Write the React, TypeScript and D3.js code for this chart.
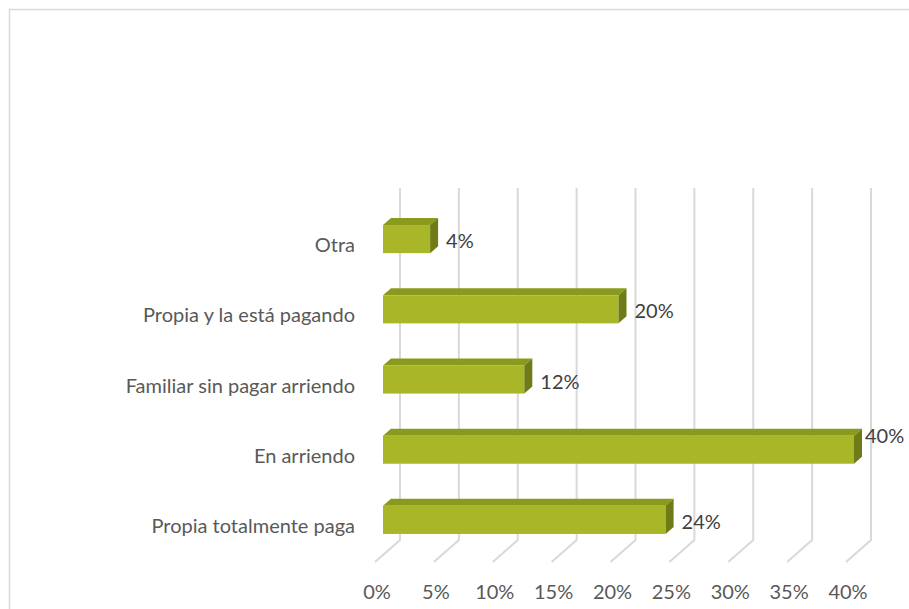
import React from "react";
import * as d3 from "d3";

const categories = ["Otra", "Propia y la está pagando", "Familiar sin pagar arriendo", "En arriendo", "Propia totalmente paga"];
const values = [4, 20, 12, 40, 24];
const ticks = [0, 5, 10, 15, 20, 25, 30, 35, 40];

const W = 909;
const H = 609;
const FONT = "Lato, 'Open Sans', sans-serif";
const FS = 20;

export default function App() {
  // front floor plane x scale
  const x = d3.scaleLinear().domain([0, 40]).range([375, 846]);
  const y = d3.scaleBand().domain(categories).range([204, 555]).paddingInner(0.6).paddingOuter(0.3);
  const depthX = 25, depthY = 23; // back wall offset
  const barOffX = 8; // bar front plane offset from front floor
  const bdx = 8, bdy = 7; // bar depth
  const gridTop = 188;
  const gridBottom = 540;
  const fmt = (v: number) => `${v}%`;

  return (
    <svg width={W} height={H} style={{ position: "absolute", left: 0, top: 0 }} fontFamily={FONT}>
      <rect x={0} y={0} width={W} height={H} fill="#fff" />
      <path d={`M9.5,${H + 5}V9.5H${W + 5}`} fill="none" stroke="#d9d9d9" strokeWidth={1.5} />
      {ticks.map((t) => {
        const bx = x(t) + depthX;
        return (
          <path
            key={t}
            d={`M${bx},${gridTop}V${gridBottom}L${x(t)},${gridBottom + depthY - 1}`}
            fill="none"
            stroke="#d9d9d9"
            strokeWidth={2}
          />
        );
      })}
      {ticks.map((t) => (
        <text key={t} x={x(t) + 2} y={599} textAnchor="middle" fontSize={FS} fill="#595959">
          {fmt(t)}
        </text>
      ))}
      {categories.map((c, i) => {
        const v = values[i];
        const x0 = x(0) + barOffX;
        const x1 = x(v) + barOffX;
        const top = y(c) as number;
        const bot = top + y.bandwidth();
        const mid = (top + bot) / 2;
        const topFace = `M${x0},${top}L${x0 + bdx},${top - bdy}L${x1 + bdx},${top - bdy}L${x1},${top}Z`;
        const sideFace = `M${x1},${top}L${x1 + bdx},${top - bdy}L${x1 + bdx},${bot - bdy}L${x1},${bot}Z`;
        let lx = x1 + bdx + 8;
        let ly = mid + 9;
        if (lx + 38 > W - 2) {
          ly = mid - 7;
          lx = x1 + bdx + 3;
        }
        return (
          <g key={c}>
            <path d={topFace} fill="#8a9a1f" />
            <rect x={x0} y={top} width={x1 - x0} height={bot - top} fill="#a8b628" />
            <path d={sideFace} fill="#6e7b17" />
            <text x={lx} y={ly} fontSize={FS} fill="#404040">
              {fmt(v)}
            </text>
            <text x={355} y={mid + 13} textAnchor="end" fontSize={FS} fill="#595959">
              {c}
            </text>
          </g>
        );
      })}
    </svg>
  );
}
